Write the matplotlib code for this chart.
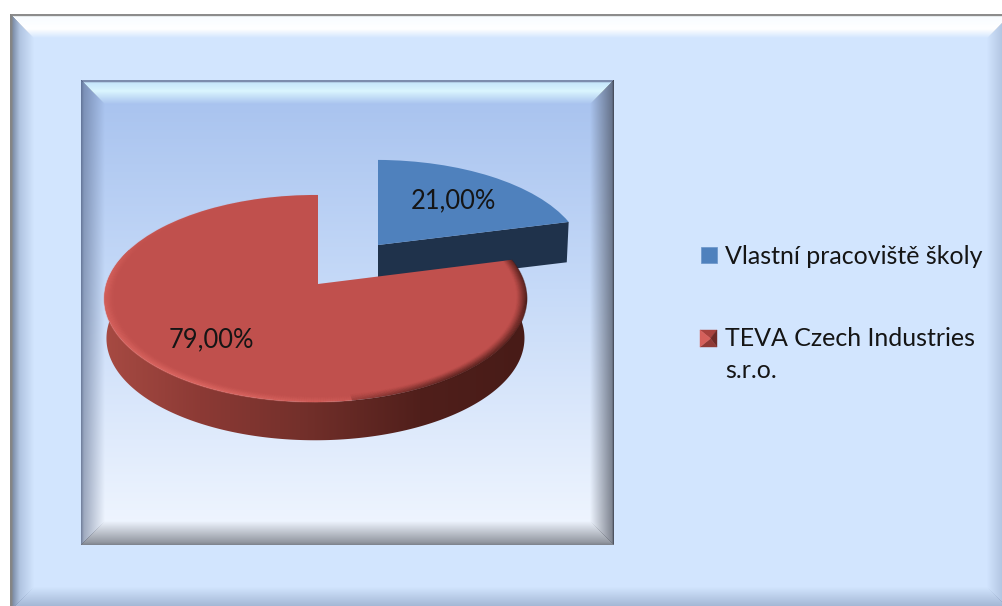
import numpy as np
import matplotlib
matplotlib.use("Agg")
import matplotlib.pyplot as plt
from matplotlib.transforms import Transform
from matplotlib.patches import Polygon, Rectangle
from matplotlib.collections import LineCollection
from matplotlib.colors import to_rgb

# ---- data ----
categories = ["Vlastní pracoviště školy", "TEVA Czech Industries\ns.r.o."]
shares = [21.0, 79.0]

# ---- style ----
BLUE, BLUE_SIDE, RED = "#4F81BD", "#1F324B", "#C0504D"
FONT = "Lato"
INK = "#151515"
W, H = 1003, 606
PIE_APEX = (318.0, 284.0)
BLUE_APEX = (378.0, 245.0)
DEPTH = 40.0
LABEL_SIZE = 18.4
LEGEND_SIZE = 18.0

plt.rcParams["font.family"] = [FONT, "DejaVu Sans"]
fig = plt.figure(figsize=(W / 100, H / 100), dpi=100, facecolor="white")
ax = fig.add_axes([0, 0, 1, 1])


class Persp(Transform):
    """Perspective projection of the unit pie disc to pixel coordinates."""
    input_dims = output_dims = 2
    is_separable = False

    def __init__(self, apex, rx=209.0, ry=101.5, kv=0.14, ku=0.012):
        super().__init__()
        self.apex, self.rx, self.ry, self.kv, self.ku = apex, rx, ry, kv, ku

    def transform_non_affine(self, values):
        values = np.asarray(values, float)
        u, v = values[:, 0], values[:, 1]
        w = 1 + self.kv * v + self.ku * u
        return np.column_stack([self.apex[0] + self.rx * u / w,
                                self.apex[1] - self.ry * v / w])


def shade(d, stops):
    xs, cols, alphas = zip(*stops)
    rgb = np.stack([np.interp(d, xs, [to_rgb(c)[i] for c in cols]) for i in range(3)], -1)
    return rgb, np.interp(d, xs, alphas)


def bevel_box(x0, y0, x1, y1, body, top, left, right, bottom, bw=24):
    """Raster of a bevelled box: body colours by height, one overlay per edge."""
    ys, xs = np.mgrid[0:y1 - y0, 0:x1 - x0]
    xs, ys = xs + .5, ys + .5
    h = y1 - y0
    img = np.stack([np.interp(ys / h, [p for p, _ in body], [to_rgb(c)[i] for _, c in body])
                    for i in range(3)], -1)
    dl, dt, dr, db = xs, ys, (x1 - x0) - xs, (y1 - y0) - ys
    dm = np.minimum.reduce([dl, dt, dr, db])
    for d, stops in ((dt, top), (dl, left), (dr, right), (db, bottom)):
        mask = (d == dm) & (d < bw)
        rgb, a = shade(d, stops)
        a = a[..., None] * mask[..., None]
        img = img * (1 - a) + rgb * a
    return img


# ---- outer frame ----
outer = bevel_box(10, 14, 1011, 611,
                  body=[(0, "#D2E5FE"), (1, "#D2E5FE")],
                  top=[(0, "#8C8C8C", 1), (2, "#8C8C8C", 1), (2.6, "#F8FCFF", 1), (15, "#FFFFFF", 1), (24, "#FFFFFF", 0)],
                  left=[(0, "#858585", 1), (2, "#858585", 1), (3, "#7F8FA8", 1), (10, "#7F93B5", .4), (24, "#7F93B5", 0)],
                  right=[(0, "#7F93B5", .6), (24, "#7F93B5", 0)],
                  bottom=[(0, "#7F93B5", .7), (24, "#7F93B5", 0)])
ax.imshow(outer, extent=(10, 1011, 611, 14), interpolation="nearest", aspect="auto", zorder=0)

# ---- plot area ----
inner = bevel_box(81, 80, 614, 545,
                  body=[(0, "#A6C1EE"), (.45, "#C6DAF8"), (1, "#F2F7FF")],
                  top=[(0, "#7C8DAE", 1), (1.5, "#7C8DAE", 1), (3, "#CFF0FF", .8), (11, "#DDF8FF", .95), (24, "#DDF8FF", 0)],
                  left=[(0, "#4F5F80", .8), (3, "#4F5F80", .5), (24, "#4F5F80", 0)],
                  right=[(0, "#3E4350", 1), (2, "#3E4350", .62), (24, "#3E4350", 0)],
                  bottom=[(0, "#70757F", .9), (3, "#70757F", .72), (24, "#70757F", 0)])
ax.imshow(inner, extent=(81, 614, 545, 80), interpolation="nearest", aspect="auto", zorder=1)

# ---- pie ----
wedges, _ = ax.pie(shares, colors=[BLUE, RED], startangle=90, counterclock=False,
                   wedgeprops={"linewidth": 0})
blue_wedge, red_wedge = wedges
blue_t = Persp(BLUE_APEX, rx=206.0, ry=97.0)
red_t = Persp(PIE_APEX)
blue_wedge.set_transform(blue_t + ax.transData)
red_wedge.set_transform(red_t + ax.transData)
blue_wedge.set_zorder(3)
red_wedge.set_zorder(5)


def lowered(pts, apex):
    """Bottom rim of the disc: slightly smaller and shifted down by the depth."""
    out = np.array(pts, float)
    out[:, 0] = apex[0] + (out[:, 0] - apex[0]) * .99
    out[:, 1] = apex[1] + (out[:, 1] - apex[1]) * .985 + DEPTH
    return out


# blue cut face
end = np.radians(blue_wedge.theta1)
b_top = blue_t.transform_non_affine(np.array([[0, 0], [np.cos(end), np.sin(end)]]))
ax.add_patch(Polygon(np.vstack([b_top, lowered(b_top, BLUE_APEX)[::-1]]), closed=True,
                     fc=BLUE_SIDE, ec="none", zorder=2))

# red wall with a horizontal gradient
th = np.radians(np.linspace(red_wedge.theta1, red_wedge.theta2, 400))
circle = np.column_stack([np.cos(th), np.sin(th)])
r_top = red_t.transform_non_affine(circle)
wall = Polygon(np.vstack([r_top, lowered(r_top, PIE_APEX)[::-1]]), closed=True,
               fc="none", ec="none", transform=ax.transData)
ax.add_patch(wall)
gx = np.arange(100, 532)
wall_stops = [(100, "#A84B43"), (200, "#8C3A35"), (300, "#74302B"), (420, "#501F1B"), (532, "#471B17")]
grad = np.stack([np.interp(gx, [s[0] for s in wall_stops], [to_rgb(s[1])[i] for s in wall_stops])
                 for i in range(3)], -1)[None, ...]
im = ax.imshow(grad, extent=(100, 532, 450, 250), aspect="auto", zorder=4, interpolation="bilinear")
im.set_clip_path(wall)

# soft rim on the red disc: light at the lower left, dark at the right
ang = np.radians(np.linspace(-270, 14.4, 500))
deg = np.degrees(ang)
light = np.interp(deg, [-270, -205, -180, -120, -90, -70], [0, .1, .45, .5, .25, 0])
dark = np.interp(deg, [-90, -55, -10, 14.4], [0, .65, .95, .6])
radii = np.linspace(1.0, .95, 11)
for r, fade in zip(radii, np.linspace(1, 0, 11)):
    pts = np.column_stack([r * np.cos(ang), r * np.sin(ang)])
    segs = np.stack([pts[:-1], pts[1:]], 1)
    cols = np.zeros((len(segs), 4))
    is_dark = dark[:-1] > light[:-1]
    cols[:, :3] = np.where(is_dark[:, None], to_rgb("#4A1C18"), to_rgb("#E8706A"))
    cols[:, 3] = np.maximum(dark[:-1], light[:-1]) * fade ** 1.5
    ax.add_collection(LineCollection(segs, colors=cols, linewidths=1.1, zorder=6,
                                     transform=red_t + ax.transData, capstyle="butt"), autolim=False)

# ---- data labels ----
label_xy = [(453, 201), (211, 340)]
for v, (x, y) in zip(shares, label_xy):
    ax.text(x, y, f"{v:.2f}".replace(".", ",") + "%", ha="center", va="center",
            fontsize=LABEL_SIZE, color=INK, zorder=8)

# ---- legend ----
ax.add_patch(Rectangle((701, 247), 16, 16, fc=BLUE, ec="#6A94C8", lw=.5, zorder=7))
kx0, ky0, kx1, ky1 = 700, 330, 717, 347
kc = ((kx0 + kx1) / 2 + 2, (ky0 + ky1) / 2)
for p, c in [(((kx0, ky0), (kx1, ky0)), "#A8423E"), (((kx1, ky0), (kx1, ky1)), "#6E2A27"),
             (((kx1, ky1), (kx0, ky1)), "#8F3A36"), (((kx0, ky1), (kx0, ky0)), "#D5605B")]:
    ax.add_patch(Polygon([p[0], p[1], kc], closed=True, fc=c, ec=c, lw=.3, zorder=7))
lines = categories[1].split("\n")
ax.text(725, 256, categories[0], ha="left", va="center", fontsize=LEGEND_SIZE, color=INK, zorder=8)
ax.text(725, 339, lines[0], ha="left", va="center", fontsize=LEGEND_SIZE, color=INK, zorder=8)
ax.text(725, 371, lines[1], ha="left", va="center", fontsize=LEGEND_SIZE, color=INK, zorder=8)

ax.set_xlim(0, W)
ax.set_ylim(H, 0)
ax.set_aspect("auto")
ax.set_axis_off()
fig.savefig("out.png", dpi=100)
